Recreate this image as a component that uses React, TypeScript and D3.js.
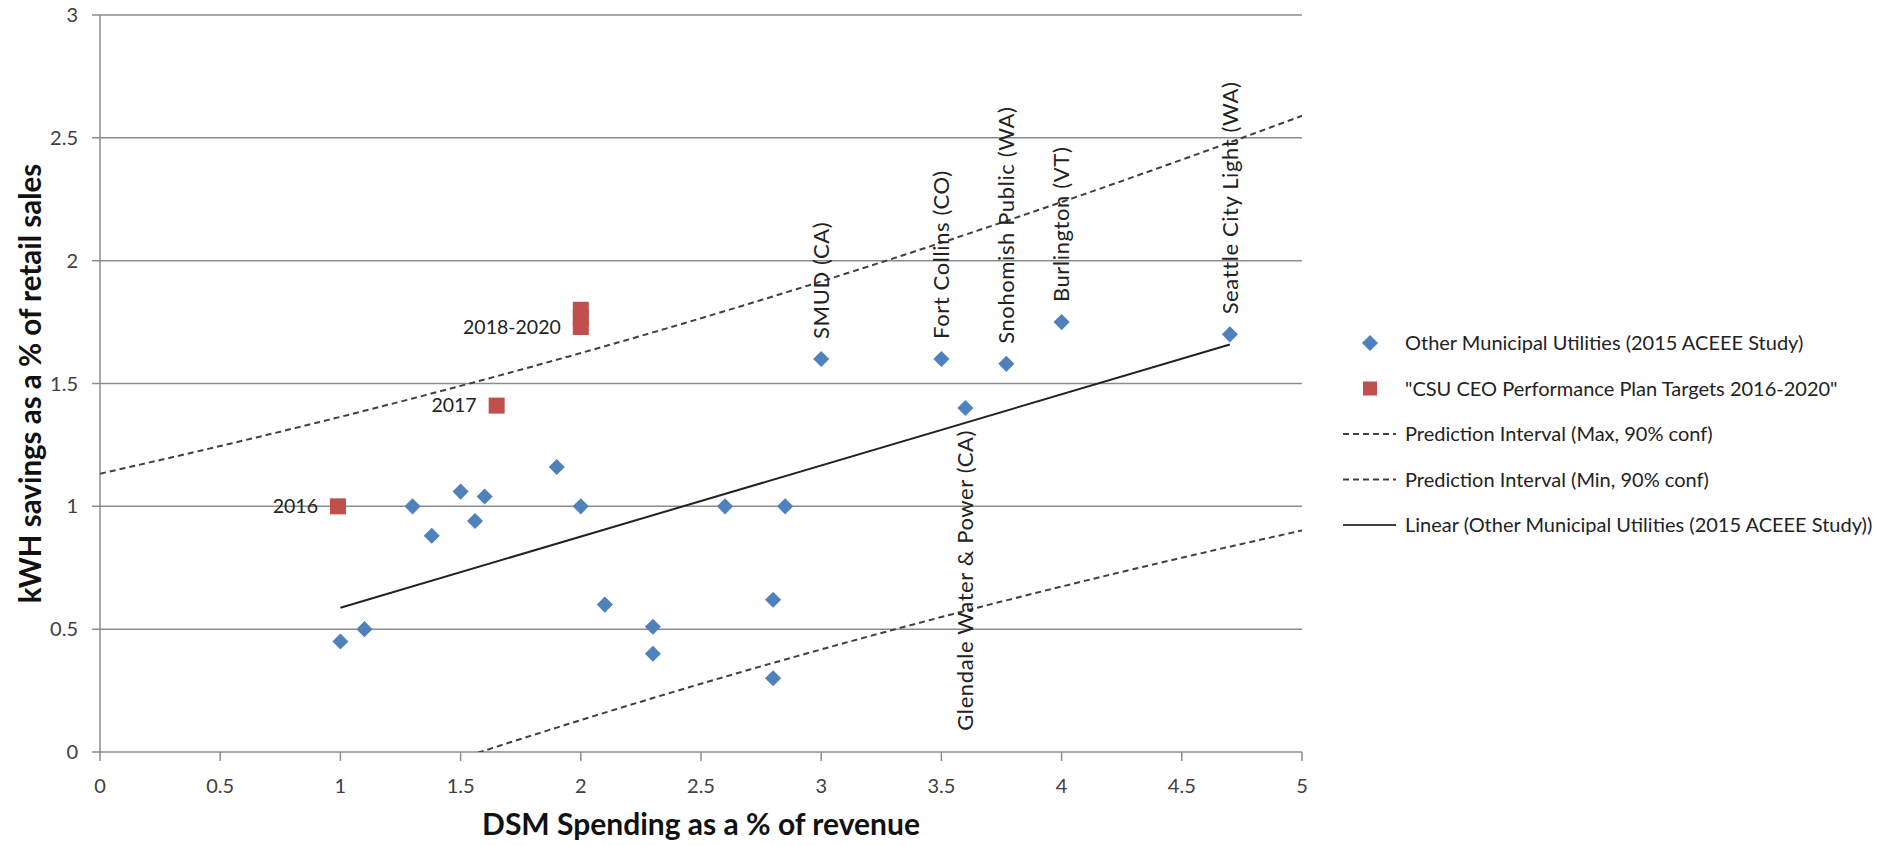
import React from 'react'
import * as d3 from 'd3'

// blue: other municipal utilities (2015 ACEEE study)
const utilX = [1.0, 1.1, 1.3, 1.38, 1.5, 1.56, 1.6, 1.9, 2.0, 2.1, 2.3, 2.3, 2.6, 2.8, 2.8, 2.85, 3.0, 3.5, 3.6, 3.77, 4.0, 4.7]
const utilY = [0.45, 0.5, 1.0, 0.88, 1.06, 0.94, 1.04, 1.16, 1.0, 0.6, 0.51, 0.4, 1.0, 0.62, 0.3, 1.0, 1.6, 1.6, 1.4, 1.58, 1.75, 1.7]
const utilLabels = ['', '', '', '', '', '', '', '', '', '', '', '', '', '', '', '', 'SMUD (CA)', 'Fort Collins (CO)', 'Glendale Water & Power (CA)', 'Snohomish Public  (WA)', 'Burlington (VT)', 'Seattle City Light (WA)']
const labelBelow = ['Glendale Water & Power (CA)']

// red: CSU CEO performance plan targets
const targetX = [0.99, 1.65, 2.0, 2.0, 2.0]
const targetY = [1.0, 1.41, 1.8, 1.765, 1.73]
const targetLabels = ['2016', '2017', '', '', '2018-2020']

const xTicks = [0, 0.5, 1, 1.5, 2, 2.5, 3, 3.5, 4, 4.5, 5]
const yTicks = [0, 0.5, 1, 1.5, 2, 2.5, 3]

const legendItems = [
  'Other Municipal Utilities (2015 ACEEE Study)',
  '"CSU CEO Performance Plan Targets 2016-2020"',
  'Prediction Interval (Max, 90% conf)',
  'Prediction Interval (Min, 90% conf)',
  'Linear (Other Municipal Utilities (2015 ACEEE Study))',
]

const T_VALUE = 2.086

const FONT = 'Lato, "Open Sans", sans-serif'
const BLUE = '#4F81BD'
const RED = '#C0504D'
const GRID = '#8c8c8c'

export default function App() {
  const width = 1879
  const height = 846
  const m = { left: 100, right: 1302, top: 15, bottom: 752 }

  const x = d3.scaleLinear().domain([0, 5]).range([m.left, m.right])
  const y = d3.scaleLinear().domain([0, 3]).range([m.bottom, m.top])

  // least squares fit + prediction interval
  const n = utilX.length
  const xbar = d3.mean(utilX) as number
  const ybar = d3.mean(utilY) as number
  const sxx = d3.sum(utilX, v => (v - xbar) ** 2)
  const sxy = d3.sum(utilX, (v, i) => (v - xbar) * (utilY[i] - ybar))
  const slope = sxy / sxx
  const icpt = ybar - slope * xbar
  const sse = d3.sum(utilX, (v, i) => (utilY[i] - (icpt + slope * v)) ** 2)
  const s = Math.sqrt(sse / (n - 2))
  const half = (v: number) => T_VALUE * s * Math.sqrt(1 + 1 / n + (v - xbar) ** 2 / sxx)

  const grid = d3.range(0, 5.0001, 0.05)
  const line = d3.line<[number, number]>().x(d => x(d[0])).y(d => y(d[1]))
  const upper = line(grid.map(v => [v, icpt + slope * v + half(v)] as [number, number]))
  const lower = line(grid.map(v => [v, icpt + slope * v - half(v)] as [number, number]))
  const [xmin, xmax] = d3.extent(utilX) as [number, number]
  const trend = line([[xmin, icpt + slope * xmin], [xmax, icpt + slope * xmax]])

  const diamond = d3.symbol().type(d3.symbolDiamond2).size(165)()

  return (
    <svg width={width} height={height} style={{ position: 'absolute', left: 0, top: 0, background: '#fff' }} fontFamily={FONT}>
      <defs>
        <clipPath id="plot">
          <rect x={m.left} y={m.top} width={m.right - m.left} height={m.bottom - m.top} />
        </clipPath>
      </defs>

      {/* gridlines */}
      {yTicks.map(t => (
        <g key={t}>
          <line x1={m.left - 8} x2={m.right} y1={y(t)} y2={y(t)} stroke={GRID} strokeWidth={1.5} />
          <text x={m.left - 22} y={y(t)} dy="0.35em" textAnchor="end" fontSize={20} fill="#404040">{t}</text>
        </g>
      ))}
      <line x1={m.left} x2={m.left} y1={m.top} y2={m.bottom} stroke={GRID} strokeWidth={1.5} />
      {xTicks.map(t => (
        <g key={t}>
          <line x1={x(t)} x2={x(t)} y1={m.bottom} y2={m.bottom + 9} stroke={GRID} strokeWidth={1.5} />
          <text x={x(t)} y={m.bottom + 34} dy="0.35em" textAnchor="middle" fontSize={20} fill="#404040">{t}</text>
        </g>
      ))}

      {/* axis titles */}
      <text x={(m.left + m.right) / 2} y={824} dy="0.35em" textAnchor="middle" fontSize={30} fontWeight="bold" fill="#111">DSM Spending as a % of revenue</text>
      <text transform={`translate(31, ${(m.top + m.bottom) / 2}) rotate(-90)`} dy="0.35em" textAnchor="middle" fontSize={29.5} fontWeight="bold" fill="#111">kWH savings as a % of retail sales</text>

      {/* regression and prediction interval */}
      <g clipPath="url(#plot)" fill="none">
        <path d={upper ?? ''} stroke="#404040" strokeWidth={2} strokeDasharray="6,4" />
        <path d={lower ?? ''} stroke="#404040" strokeWidth={2} strokeDasharray="6,4" />
        <path d={trend ?? ''} stroke="#222" strokeWidth={2} />
      </g>

      {/* utilities */}
      {utilX.map((v, i) => (
        <path key={i} d={diamond ?? ''} transform={`translate(${x(v)},${y(utilY[i])})`} fill={BLUE} />
      ))}
      {utilX.map((v, i) => {
        const lab = utilLabels[i]
        if (!lab) return null
        const below = labelBelow.includes(lab)
        const yy = below ? y(utilY[i]) + 22 : y(utilY[i]) - 20
        return (
          <text key={'l' + i} transform={`translate(${x(v)},${yy}) rotate(-90)`} dy="0.35em" textAnchor={below ? 'end' : 'start'} fontSize={22} letterSpacing={0.6} fill="#222">{lab}</text>
        )
      })}

      {/* targets */}
      {targetX.map((v, i) => (
        <rect key={i} x={x(v) - 8} y={y(targetY[i]) - 8} width={16} height={16} fill={RED} />
      ))}
      {targetX.map((v, i) => targetLabels[i] ? (
        <text key={'t' + i} x={x(v) - 20} y={y(targetY[i])} dy="0.35em" textAnchor="end" fontSize={19.5} fill="#222">{targetLabels[i]}</text>
      ) : null)}

      {/* legend */}
      {legendItems.map((lab, i) => {
        const ly = 343 + i * 45.5
        let mark
        if (i === 0) mark = <path d={diamond ?? ''} transform={`translate(1370,${ly})`} fill={BLUE} />
        else if (i === 1) mark = <rect x={1363} y={ly - 7} width={14} height={14} fill={RED} />
        else mark = <line x1={1343} x2={1396} y1={ly} y2={ly} stroke="#404040" strokeWidth={i === 4 ? 1.8 : 2} strokeDasharray={i === 4 ? undefined : '6,4'} />
        return (
          <g key={lab}>
            {mark}
            <text x={1405} y={ly} dy="0.35em" fontSize={20} fill="#222">{lab}</text>
          </g>
        )
      })}
    </svg>
  )
}
